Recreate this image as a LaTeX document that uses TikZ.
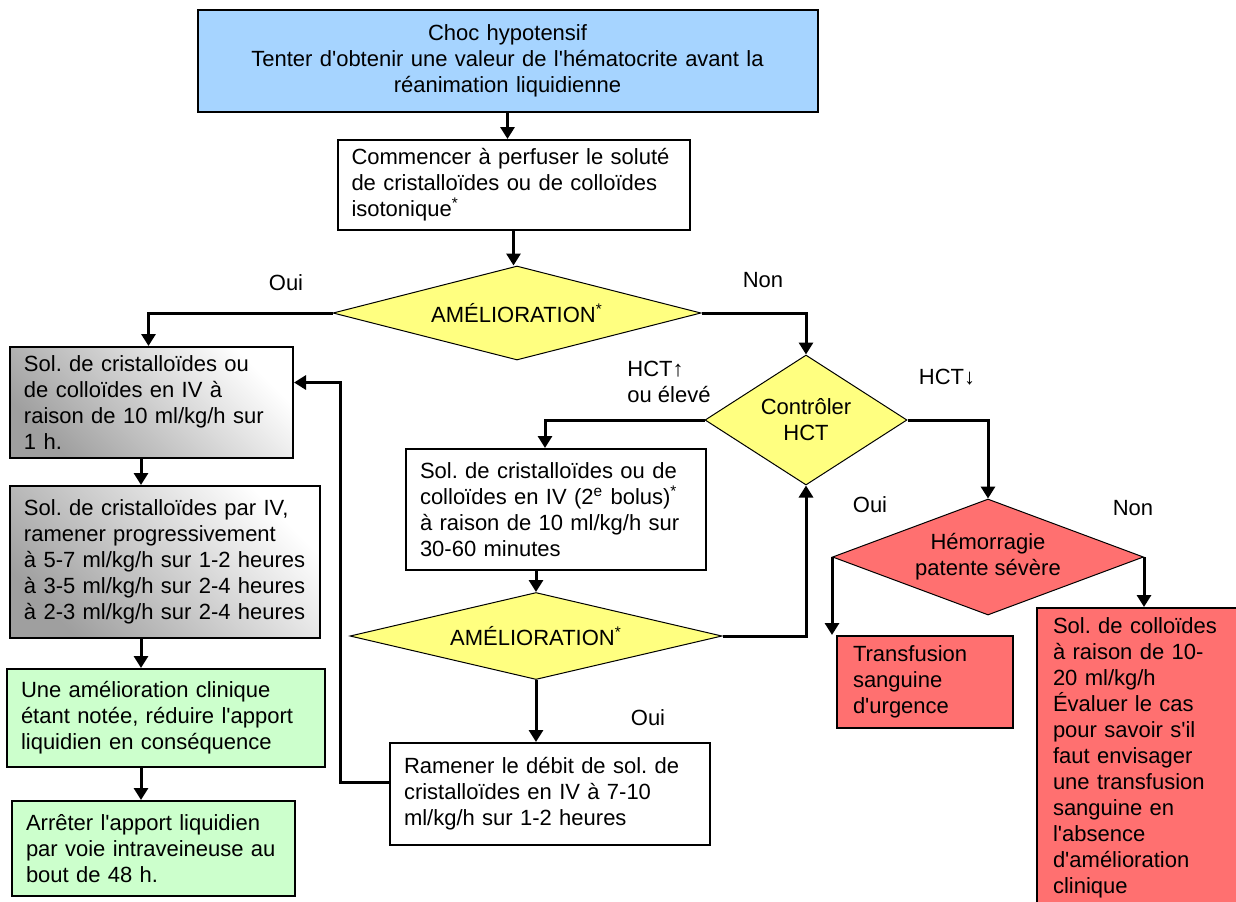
\documentclass[tikz,border=0pt]{standalone}
\usepackage{fontspec}
\setmainfont{Liberation Sans}[Ligatures=TeXOff]
\usetikzlibrary{arrows.meta,positioning,shapes.geometric}
\definecolor{topblue}{HTML}{A6D4FF}
\definecolor{decyel}{HTML}{FFFF80}
\definecolor{hemred}{HTML}{FF7070}
\definecolor{okgreen}{HTML}{CCFFCC}
\frenchspacing

\begin{document}
\begin{tikzpicture}[
  x=0.5pt, y=-0.5pt,
  font=\fontsize{11}{13}\selectfont,
  box/.style={draw, line width=1pt, align=left, inner xsep=7pt, inner ysep=4pt},
  graybox/.style={box, top color=white, bottom color=gray!75, shading angle=-45},
  dec/.style={diamond, draw, line width=0.5pt, fill=decyel, inner sep=0pt, align=center},
  lbl/.style={align=left, inner sep=0pt},
  arr/.style={->, line width=1.5pt},
  >={Triangle[width=7pt,length=6pt]}
]
\useasboundingbox (0,0) rectangle (1236,901);

% main column
\node[box, fill=topblue, align=center, text width=296pt, minimum height=51pt] (top) at (507.5,61)
  {Choc hypotensif\\Tenter d'obtenir une valeur de l'hématocrite avant la\\réanimation liquidienne};
\node[box, fill=white, text width=162pt, minimum height=45pt] (start) at (513.5,185)
  {Commencer à perfuser le soluté\\de cristalloïdes ou de colloïdes\\isotonique\textsuperscript{*}};
\node[dec, minimum width=184pt, minimum height=47pt, aspect=3.9] (ame1) at (517,313) {AMÉLIORATION\textsuperscript{*}};

% left column
\node[graybox, text width=127.5pt, minimum height=55.5pt] (solA) at (151.5,402.5)
  {Sol. de cristalloïdes ou\\de colloïdes en IV à\\raison de 10 ml/kg/h sur\\1 h.};
\node[graybox, text width=141pt, minimum height=76pt, below right=13pt and 0pt of solA.south west] (solB)
  {Sol. de cristalloïdes par IV,\\ramener progressivement\\à 5-7 ml/kg/h sur 1-2 heures\\à 3-5 ml/kg/h sur 2-4 heures\\à 2-3 ml/kg/h sur 2-4 heures};
\node[box, fill=okgreen, text width=145pt, minimum height=49pt, below right=14.5pt and -1.5pt of solB.south west] (reduce)
  {Une amélioration clinique\\étant notée, réduire l'apport\\liquidien en conséquence};
\node[box, fill=okgreen, text width=127.5pt, minimum height=47.5pt, below right=16pt and 2.5pt of reduce.south west] (stop)
  {Arrêter l'apport liquidien\\par voie intraveineuse au\\bout de 48 h.};

% middle
\node[dec, minimum width=101pt, minimum height=65pt, aspect=1.5] (hct) at (806,420) {Contrôler\\HCT};
\node[box, fill=white, text width=136pt, minimum height=60.5pt] (bolus) at (556,509.5)
  {Sol. de cristalloïdes ou de\\colloïdes en IV (2\textsuperscript{e} bolus)\textsuperscript{*}\\à raison de 10 ml/kg/h sur\\30-60 minutes};
\node[dec, minimum width=186pt, minimum height=43.5pt, aspect=4.2] (ame2) at (536,636) {AMÉLIORATION\textsuperscript{*}};
\node[box, fill=white, text width=146pt, minimum height=51pt] (lower) at (550,794)
  {Ramener le débit de sol. de\\cristalloïdes en IV à 7-10\\ml/kg/h sur 1-2 heures};

% right
\node[dec, fill=hemred, minimum width=155.5pt, minimum height=58pt, aspect=2.7] (hem) at (988,557) {Hémorragie\\patente sévère};
\node[box, fill=hemred, text width=72pt, inner xsep=8pt, minimum height=46pt] (transf) at (925,682)
  {Transfusion\\sanguine\\d'urgence};
\node[box, fill=hemred, text width=86pt, inner xsep=8pt, inner ysep=5pt, anchor=north west] (colloid) at (1036,607)
  {Sol. de colloïdes\\à raison de 10-\\20 ml/kg/h\\Évaluer le cas\\pour savoir s'il\\faut envisager\\une transfusion\\sanguine en\\l'absence\\d'amélioration\\clinique};

% labels
\node[lbl] (oui1) at (286,283) {Oui};
\node[lbl] (non1) at (763,280) {Non};
\node[lbl] (hctup) at (669,382) {HCT↑\\ou élevé};
\node[lbl] (hctdn) at (947,377) {HCT↓};
\node[lbl] (oui2) at (870,505) {Oui};
\node[lbl] (non2) at (1133,508) {Non};
\node[lbl] (oui3) at (648,718) {Oui};

\coordinate (lcol) at (141,0);
\coordinate (back) at (340,600);

% connectors
\draw[arr] (top.south) -- (top.south |- start.north);
\draw[arr] (start.south) -- (start.south |- ame1.north);
\draw[arr] (ame1.west) -| ([xshift=-1.5pt]solA.north);
\draw[arr] (ame1.east) -| (hct.north);
\draw[arr] (solA.south -| lcol) -- (solB.north -| lcol);
\draw[arr] (solB.south -| lcol) -- (reduce.north -| lcol);
\draw[arr] (reduce.south -| lcol) -- (stop.north -| lcol);
\draw[arr] (hct.west) -| ([xshift=-5.5pt]bolus.north);
\draw[arr] (bolus.south -| ame2.north) -- (ame2.north);
\draw[arr] (ame2.east) -| (hct.south);
\draw[arr] (ame2.south) -- (ame2.south |- lower.north);
\draw[arr] ([yshift=6pt]lower.west) -| (back) |- ([yshift=10pt]solA.east);
\draw[arr] (hct.east) -| (hem.north);
\draw[arr] (hem.west) -- (hem.west |- transf.north);
\draw[arr] (hem.east) -- (hem.east |- colloid.north);
\end{tikzpicture}
\end{document}
